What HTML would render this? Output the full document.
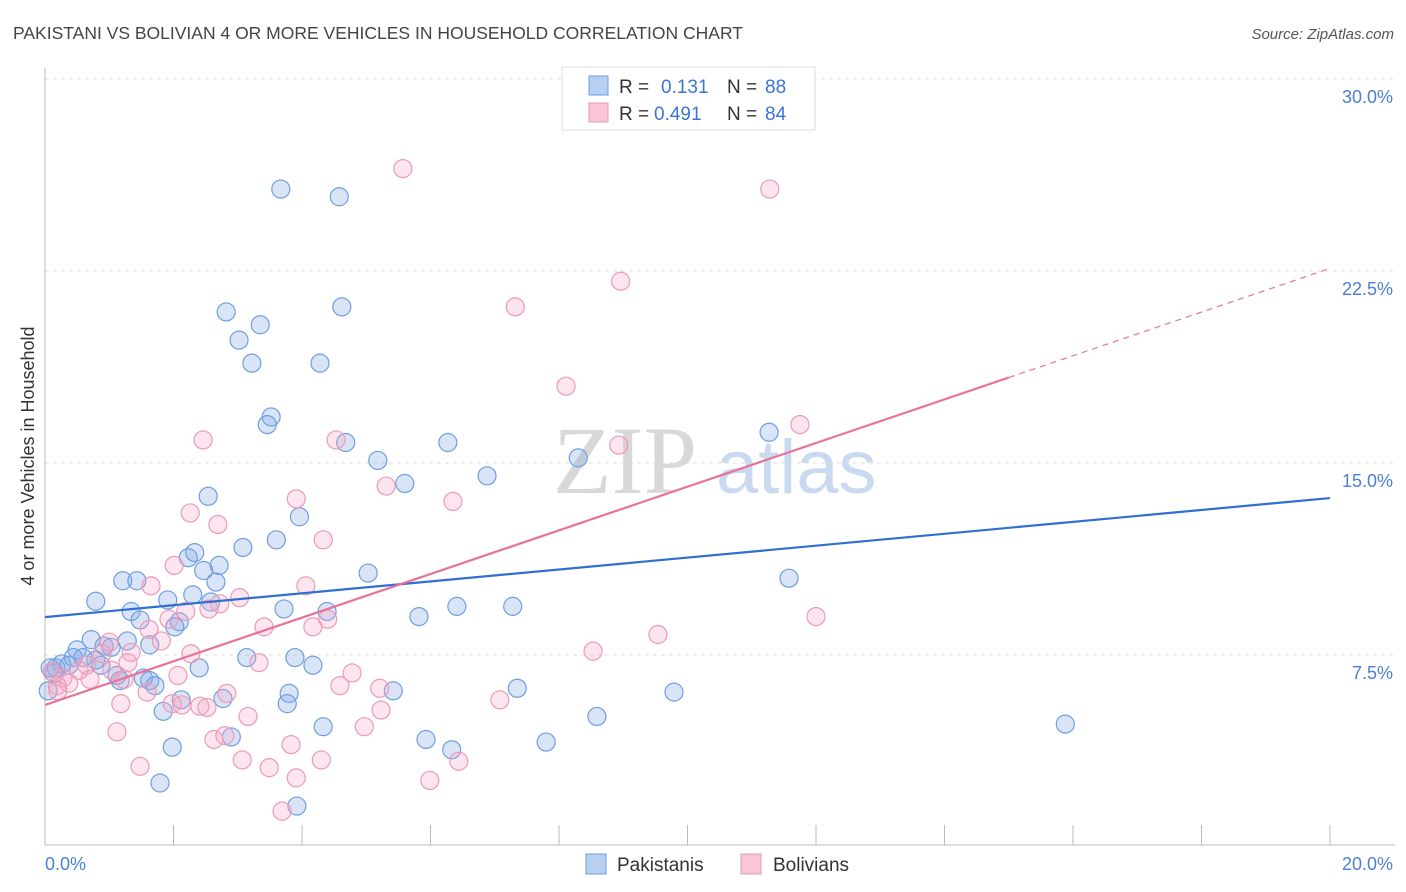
<!DOCTYPE html>
<html><head><meta charset="utf-8"><style>
body{margin:0;background:#fff;font-family:"Liberation Sans",sans-serif;}
svg{display:block}
</style></head><body>
<svg id="chart" width="1406" height="892" viewBox="0 0 1406 892" xmlns="http://www.w3.org/2000/svg">
<text x="13" y="39" font-size="17.5" fill="#444">PAKISTANI VS BOLIVIAN 4 OR MORE VEHICLES IN HOUSEHOLD CORRELATION CHART</text>
<text x="1394" y="39" font-size="15" fill="#555" font-style="italic" text-anchor="end">Source: ZipAtlas.com</text>
<g>
<text x="553" y="493" font-size="96" font-family="Liberation Serif,serif" fill="#d8d8d8">ZIP</text>
<text x="716" y="493" font-size="76" fill="#c9daf0">atlas</text>
</g>
<g id="grid"></g>
<g id="axes"></g>
<g id="marks"></g>
<text transform="translate(34,456) rotate(-90)" font-size="18" fill="#333" text-anchor="middle">4 or more Vehicles in Household</text>
<g>
<rect x="562" y="67" width="253" height="63" fill="#fff" stroke="#ddd"/>
<rect x="589" y="76" width="19" height="19" fill="#b7cff2" stroke="#6f9ee0"/>
<rect x="589" y="103" width="19" height="19" fill="#f8c6d6" stroke="#ec9ab7"/>
<text x="619" y="93" font-size="19" fill="#333">R = </text><text x="661" y="93" font-size="19" fill="#3b75d3">0.131</text>
<text x="727" y="93" font-size="19" fill="#333">N = </text><text x="765" y="93" font-size="19" fill="#3b75d3">88</text>
<text x="619" y="120" font-size="19" fill="#333">R = </text><text x="654" y="120" font-size="19" fill="#3b75d3">0.491</text>
<text x="727" y="120" font-size="19" fill="#333">N = </text><text x="765" y="120" font-size="19" fill="#3b75d3">84</text>
</g>
<g>
<rect x="586" y="854" width="20" height="20" fill="#b7cff2" stroke="#6f9ee0"/>
<text x="617" y="871" font-size="19" fill="#333">Pakistanis</text>
<rect x="741" y="854" width="20" height="20" fill="#f8c6d6" stroke="#ec9ab7"/>
<text x="773" y="871" font-size="19" fill="#333">Bolivians</text>
</g>
</svg>
<script>
const xTicks=[0,2,4,6,8,10,12,14,16,18,20];
const yTicks=[7.5,15,22.5,30];
const yTickLabels=["7.5%","15.0%","22.5%","30.0%"];
const pakX=[3.67,4.58,2.82,3.35,4.62,3.02,3.22,4.28,3.52,3.46,4.68,6.27,5.18,8.30,11.27,6.88,5.60,2.54,3.96,3.60,3.08,2.23,2.33,2.71,2.47,5.03,2.66,1.21,1.43,11.58,0.79,1.91,2.30,2.58,1.34,3.72,4.39,6.41,7.28,5.82,1.48,2.09,2.02,1.63,1.28,0.72,0.92,0.50,1.03,0.44,0.59,0.79,0.26,0.17,0.37,0.14,0.87,3.14,3.89,4.17,2.40,1.12,1.17,1.53,1.63,1.71,3.80,5.42,7.35,9.79,3.77,2.77,2.12,1.84,4.33,8.59,15.88,2.90,5.93,7.80,1.98,6.33,1.79,3.92,0.05,0.08];
const pakY=[25.7,25.4,20.9,20.4,21.1,19.8,18.9,18.9,16.8,16.5,15.8,15.8,15.1,15.2,16.2,14.5,14.2,13.7,12.9,12.0,11.7,11.3,11.5,11.0,10.8,10.7,10.35,10.4,10.4,10.5,9.6,9.65,9.85,9.57,9.2,9.3,9.2,9.4,9.4,9.0,8.87,8.8,8.6,7.9,8.05,8.1,7.85,7.7,7.8,7.4,7.4,7.3,7.15,7.0,7.1,6.8,7.1,7.4,7.4,7.1,7.0,6.7,6.5,6.6,6.5,6.3,6.0,6.1,6.2,6.05,5.6,5.8,5.75,5.3,4.7,5.1,4.8,4.3,4.2,4.1,3.9,3.8,2.5,1.6,6.1,7.0];
const bolX=[5.57,11.28,8.96,7.32,8.11,11.75,2.46,4.53,8.93,5.31,3.91,6.35,2.26,2.69,4.33,2.01,4.06,1.65,3.03,2.72,2.19,2.55,1.93,4.40,12.0,3.41,4.17,1.62,9.54,1.00,1.81,1.34,2.27,8.53,0.89,1.29,3.33,0.65,0.53,1.04,4.78,2.07,0.28,0.37,0.19,0.70,1.23,4.59,5.21,1.59,2.83,1.98,2.13,2.41,2.52,1.18,7.08,5.23,3.16,4.97,1.12,2.63,2.80,3.83,4.30,3.07,3.49,1.48,6.44,3.91,5.99,3.69,0.11,0.2];
const bolY=[26.5,25.7,22.1,21.1,18.0,16.5,15.9,15.9,15.7,14.1,13.6,13.5,13.05,12.6,12.0,11.0,10.2,10.2,9.74,9.5,9.2,9.3,8.9,8.9,9.0,8.6,8.6,8.5,8.3,8.0,8.05,7.6,7.55,7.65,7.55,7.2,7.2,7.1,6.9,6.9,6.8,6.7,6.6,6.4,6.3,6.55,6.55,6.3,6.2,6.05,6.0,5.6,5.55,5.5,5.45,5.6,5.75,5.35,5.1,4.7,4.5,4.2,4.35,4.0,3.4,3.4,3.1,3.15,3.35,2.7,2.6,1.4,6.85,6.1];
const pakTrend=[8.98,13.63];
const bolTrend=[5.55,22.6];
const bolSolidEnd=15.0;
const X=v=>45+v*64.25, Y=v=>847-v*25.6;
const NS="http://www.w3.org/2000/svg";
function mk(tag,attrs,parent){const e=document.createElementNS(NS,tag);for(const k in attrs)e.setAttribute(k,attrs[k]);parent.appendChild(e);return e;}
const grid=document.getElementById('grid'),axes=document.getElementById('axes'),marks=document.getElementById('marks');
yTicks.forEach((t,i)=>{
 const g=mk('line',{x1:45,x2:1395,y1:Y(t),y2:Y(t),stroke:'#ddd','stroke-dasharray':'4,4'},grid);
 
 
 const l=mk('text',{x:1393,y:Y(t)+24,'font-size':18,fill:'#4a7fd4','text-anchor':'end'},axes);
 l.textContent=yTickLabels[i];
 
 
});
const xa=mk('line',{x1:45,x2:1395,y1:845,y2:845,stroke:'#bbb'},axes);


const ya=mk('line',{x1:45,x2:45,y1:68,y2:845,stroke:'#bbb'},axes);


xTicks.forEach(t=>{if(t===0)return;
 const tk=mk('line',{x1:X(t),x2:X(t),y1:825,y2:845,stroke:'#bbb'},axes);
 
 
});
const x0=mk('text',{x:45,y:870,'font-size':18,fill:'#4a7fd4'},axes);x0.textContent='0.0%';


const x1=mk('text',{x:1393,y:870,'font-size':18,fill:'#4a7fd4','text-anchor':'end'},axes);x1.textContent='20.0%';


pakX.forEach((v,i)=>{
 const c=mk('circle',{cx:X(v),cy:Y(pakY[i]),r:9,fill:'rgba(130,170,230,0.3)',stroke:'#6f9ee0','stroke-width':1.2},marks);
 
 
});
bolX.forEach((v,i)=>{
 const c=mk('circle',{cx:X(v),cy:Y(bolY[i]),r:9,fill:'rgba(245,170,200,0.3)',stroke:'#ec9ab7','stroke-width':1.2},marks);
 
 
});
const pl=mk('line',{x1:X(0),y1:Y(pakTrend[0]),x2:X(20),y2:Y(pakTrend[1]),stroke:'#2f6fd0','stroke-width':2.2},marks);


const bAt=x=>bolTrend[0]+(bolTrend[1]-bolTrend[0])*x/20;
const bl=mk('line',{x1:X(0),y1:Y(bolTrend[0]),x2:X(bolSolidEnd),y2:Y(bAt(bolSolidEnd)),stroke:'#e8729a','stroke-width':2.2},marks);


const bd=mk('line',{x1:X(bolSolidEnd),y1:Y(bAt(bolSolidEnd)),x2:X(20),y2:Y(bolTrend[1]),stroke:'#e8729a','stroke-width':1.2,'stroke-dasharray':'6,5'},marks);


</script>
</body></html>
